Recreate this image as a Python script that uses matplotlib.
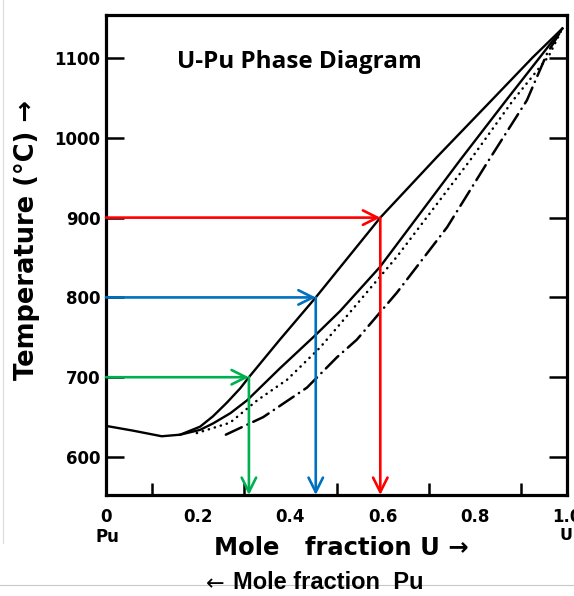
import numpy as np
import matplotlib.pyplot as plt
from matplotlib.lines import Line2D

# U-Pu phase boundaries (mole fraction U, temperature in deg C)
liq_x = [0.0, 0.059, 0.121, 0.161, 0.204, 0.232, 0.262, 0.291, 0.31, 0.377, 0.455, 0.595, 0.718, 0.833, 0.926, 0.99]
liq_t = [639, 633, 626, 628, 638, 651, 668, 686, 700, 747, 800, 900, 976, 1045, 1101, 1137]

sol_x = [0.161, 0.204, 0.232, 0.27, 0.306, 0.377, 0.453, 0.508, 0.594, 0.768, 0.868, 0.99]
sol_t = [628, 634, 642, 655, 671, 711, 752, 783, 838, 972, 1047, 1137]

dot_x = [0.197, 0.269, 0.328, 0.393, 0.464, 0.501, 0.631, 0.79, 0.883, 0.96, 0.99]
dot_t = [630, 643, 671, 697, 737, 762, 851, 972, 1047, 1102, 1137]

dd_x = [0.26, 0.341, 0.436, 0.501, 0.544, 0.631, 0.74, 0.826, 0.913, 0.957, 0.99]
dd_t = [628, 650, 687, 725, 747, 806, 888, 968, 1047, 1106, 1137]

# read-off guides
guide_t = [700, 800, 900]
guide_x = [0.31, 0.455, 0.595]
guide_c = ['#00b050', '#0070c0', '#ff0000']

y_ticks = [600, 700, 800, 900, 1000, 1100]
x_labels = ['0', '0.2', '0.4', '0.6', '0.8', '1.0']

W, H = 574, 596
fig = plt.figure(figsize=(W / 100, H / 100), dpi=100)
ax = fig.add_axes([106 / W, 1 - 495 / H, 461 / W, 480 / H])

ax.set_xlim(0, 1.0)
ax.set_ylim(552.4, 1153.9)

ax.plot(liq_x, liq_t, color='black', lw=1.7)
ax.plot(sol_x, sol_t, color='black', lw=1.7)
ax.plot(dot_x, dot_t, color='black', lw=1.8, linestyle=(0, (0.1, 2.4)), dash_capstyle='round')
ax.plot(dd_x, dd_t, color='black', lw=1.8, linestyle=(0, (7, 2.5, 0.1, 2.5)), dash_capstyle='round')

ymin = ax.get_ylim()[0]
for t, x, c in zip(guide_t, guide_x, guide_c):
    ax.annotate('', xy=(x, t), xytext=(0, t),
                arrowprops=dict(arrowstyle='->', color=c, lw=1.9, mutation_scale=26,
                                shrinkA=0, shrinkB=0))
    ax.annotate('', xy=(x, ymin), xytext=(x, t),
                arrowprops=dict(arrowstyle='->', color=c, lw=1.9, mutation_scale=26,
                                shrinkA=0, shrinkB=0))

for s in ax.spines.values():
    s.set_linewidth(2.3)

ax.set_yticks(y_ticks)
ax.tick_params(axis='y', which='major', direction='in', length=13, width=1.8,
               right=True, labelsize=12, pad=4)
ax.set_xticks(np.arange(0, 1.01, 0.2))
ax.set_xticklabels(x_labels)
ax.set_xticks(np.arange(0.1, 0.95, 0.1), minor=True)
ax.tick_params(axis='x', which='major', direction='in', length=0, labelsize=12, pad=9)
ax.tick_params(axis='x', which='minor', direction='in', length=9, width=1.8)
for lab in ax.get_xticklabels() + ax.get_yticklabels():
    lab.set_fontweight('bold')

fig.text(299 / W, 1 - 62 / H, 'U-Pu Phase Diagram', ha='center', va='center',
         fontsize=17.5, fontweight='bold', family='Open Sans')
fig.text(107 / W, 1 - 537 / H, 'Pu', ha='center', va='center', fontsize=12, fontweight='bold')
fig.text(566 / W, 1 - 535 / H, 'U', ha='center', va='center', fontsize=11.5, fontweight='bold')
fig.text(341 / W, 1 - 548 / H, 'Mole   fraction U \u2192', ha='center', va='center',
         fontsize=17.5, fontweight='bold')
fig.text(27 / W, 1 - 240 / H, 'Temperature (\u00b0C) \u2192', ha='center', va='center',
         rotation=90, fontsize=18.5, fontweight='bold')

# page edges around the figure
fig.add_artist(Line2D([0, 1], [1 - 585 / H, 1 - 585 / H], color='#c8c8c8', lw=0.8))
fig.add_artist(Line2D([3 / W, 3 / W], [1, 1 - 543 / H], color='#dcdcdc', lw=0.8))
fig.text(215 / W, 1 - 584 / H, '\u2190', ha='center', va='center',
         fontsize=16, family='DejaVu Sans')
fig.text(233 / W, 1 - 589 / H, 'Mole fraction  Pu', ha='left', va='baseline',
         fontsize=17, fontweight='bold', family='Liberation Sans')

fig.savefig('out.png', dpi=100)
